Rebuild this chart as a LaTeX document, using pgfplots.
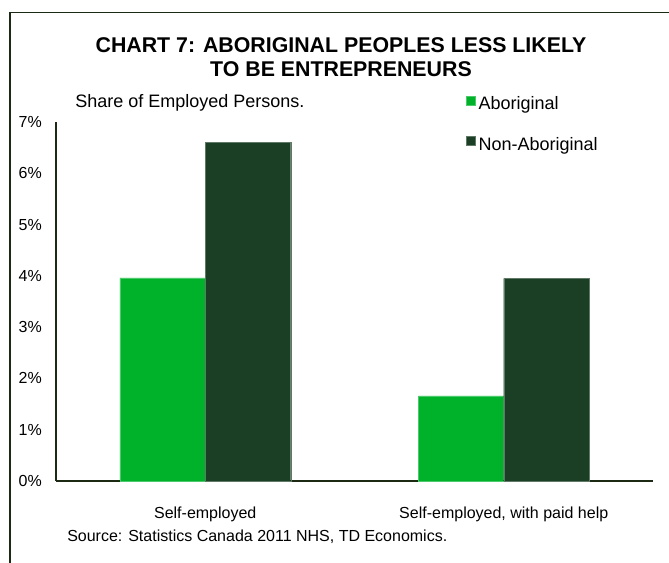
\documentclass[border=0pt]{standalone}
\usepackage{pgfplots}
\pgfplotsset{compat=1.18}
\usepackage{fontspec}
\setmainfont{Liberation Sans}
\definecolor{abo}{HTML}{00B22A}
\definecolor{nonabo}{HTML}{1A3F24}
\definecolor{frame}{HTML}{1C2A14}
\begin{document}
\begin{tikzpicture}
\useasboundingbox (0,0) rectangle (501.75pt,422.25pt);
\draw[frame, line width=1pt] (7.5pt,0) -- (7.5pt,412.9pt) -- (501.75pt,412.9pt);
\node[font=\fontsize{16pt}{18pt}\selectfont\bfseries, align=center, text=black] at (255.75pt,379.5pt)
  {CHART 7: ABORIGINAL PEOPLES LESS LIKELY\\TO BE ENTREPRENEURS};
\node[font=\fontsize{13.5pt}{16pt}\selectfont, anchor=west, inner sep=0pt] at (56.25pt,345pt) {Share of Employed Persons.};
\node[font=\fontsize{12pt}{14pt}\selectfont, anchor=west, inner sep=0pt] at (50.25pt,19.5pt) {Source: Statistics Canada 2011 NHS, TD Economics.};
\begin{axis}[
  at={(42pt,61.5pt)}, anchor=south west,
  scale only axis, width=447.75pt, height=269.25pt,
  ybar=0pt, bar width=64.1pt,
  xmin=-0.5, xmax=1.5, ymin=0, ymax=7,
  axis x line=bottom, axis y line=left,
  axis line style={draw=frame, line width=1.1pt, -},
  xtick=data, xticklabels={Self-employed, {Self-employed, with paid help}},
  ytick={0,1,...,7},
  yticklabel={\pgfmathprintnumber{\tick}\%},
  major tick length=0pt,
  tick label style={font=\fontsize{12pt}{14pt}\selectfont},
  /pgf/number format/assume math mode=true,
  xticklabel style={anchor=north, inner sep=0pt, yshift=-19pt},
  yticklabel style={anchor=east, inner sep=0pt, xshift=-10.5pt},
  legend style={at={(0.680,1.080)}, anchor=north west, draw=none, fill=none,
    font=\fontsize{13.5pt}{16pt}\selectfont, row sep=17pt,
    nodes={inner sep=0pt, text height=10pt, text depth=3pt, anchor=west},
    /tikz/every odd column/.append style={column sep=2.2pt}},
  legend cell align=left,
  legend image code/.code={\fill[#1] (0pt,-0.2pt) rectangle (6.75pt,6.55pt);},
  clip=false,
]
\addplot[fill=abo, draw=abo!70!white, line width=0.3pt] coordinates {(0,3.96) (1,1.66)};
\addlegendentry{Aboriginal}
\addplot[fill=nonabo, draw=nonabo!70!white, line width=0.3pt] coordinates {(0,6.61) (1,3.95)};
\addlegendentry{Non-Aboriginal}
\end{axis}
\end{tikzpicture}
\end{document}
